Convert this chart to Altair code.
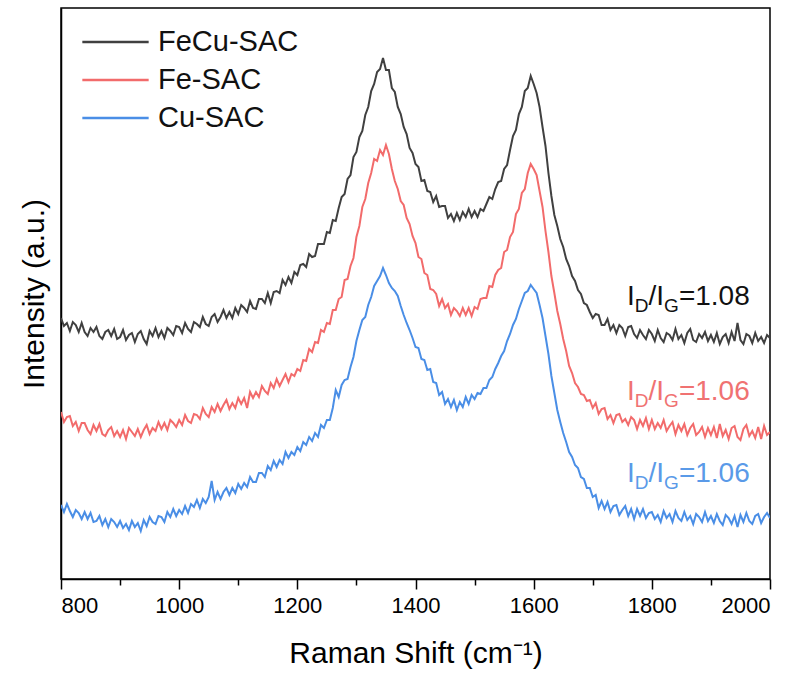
import altair as alt
import pandas as pd

# Raman shift sampling (cm^-1)
shift = list(range(800, 2001, 5))

# Intensities (arbitrary units)
fecu = [
    261, 253, 256, 248, 257, 254, 247, 256, 247, 243, 251, 247, 252, 243, 240, 247, 249, 243, 250, 240,
    242, 249, 239, 244, 246, 237, 245, 248, 240, 235, 248, 243, 251, 242, 248, 241, 251, 248, 244, 253,
    252, 246, 256, 250, 247, 257, 255, 252, 262, 255, 253, 262, 265, 257, 262, 269, 261, 267, 261, 271,
    265, 274, 271, 267, 278, 271, 270, 280, 280, 276, 286, 276, 287, 288, 286, 299, 294, 302, 296, 307,
    304, 314, 315, 312, 325, 322, 323, 335, 335, 335, 347, 346, 359, 358, 371, 382, 385, 400, 404, 422,
    427, 442, 448, 464, 472, 488, 495, 507, 510, 521, 509, 509, 491, 487, 472, 465, 452, 445, 431, 426,
    415, 412, 398, 399, 388, 387, 377, 383, 372, 373, 373, 361, 365, 358, 366, 359, 367, 362, 370, 362,
    368, 362, 370, 368, 375, 382, 380, 390, 397, 398, 410, 414, 429, 443, 449, 465, 472, 488, 491, 503,
    495, 486, 472, 452, 433, 406, 383, 364, 353, 340, 332, 320, 313, 303, 298, 289, 285, 276, 274, 267,
    261, 265, 264, 254, 254, 260, 249, 254, 246, 254, 251, 243, 252, 253, 245, 241, 249, 244, 240, 249,
    245, 238, 249, 241, 237, 246, 244, 239, 250, 240, 244, 236, 246, 250, 239, 237, 245, 241, 247, 238,
    244, 237, 246, 235, 242, 245, 236, 247, 238, 256, 239, 235, 245, 243, 236, 246, 238, 242, 236, 244,
    241,
]
fe = [
    167, 157, 162, 163, 153, 157, 148, 156, 156, 149, 145, 154, 148, 155, 145, 143, 149, 152, 143, 148,
    142, 149, 140, 151, 147, 143, 150, 142, 149, 154, 145, 151, 148, 157, 150, 156, 149, 159, 156, 152,
    159, 154, 164, 158, 156, 165, 164, 160, 171, 165, 162, 172, 167, 175, 168, 174, 179, 170, 176, 171,
    181, 175, 181, 171, 187, 181, 187, 182, 193, 188, 185, 196, 191, 200, 193, 199, 205, 197, 205, 203,
    210, 208, 219, 218, 230, 227, 237, 236, 249, 247, 256, 255, 269, 269, 280, 282, 299, 300, 313, 321,
    342, 353, 372, 380, 396, 406, 420, 418, 429, 424, 434, 425, 410, 398, 390, 378, 374, 361, 355, 343,
    336, 322, 320, 306, 304, 290, 289, 285, 273, 280, 271, 275, 264, 271, 268, 263, 271, 264, 271, 263,
    272, 270, 280, 281, 281, 293, 292, 304, 309, 311, 327, 329, 342, 347, 365, 370, 386, 390, 406, 415,
    410, 404, 388, 372, 348, 327, 303, 286, 268, 255, 240, 228, 213, 206, 196, 192, 185, 184, 178, 179,
    171, 176, 165, 170, 171, 160, 164, 156, 164, 165, 157, 160, 154, 162, 159, 150, 159, 153, 161, 150,
    159, 150, 156, 151, 159, 148, 153, 157, 145, 154, 148, 155, 144, 151, 155, 144, 147, 152, 142, 151,
    144, 152, 141, 155, 143, 149, 140, 151, 153, 142, 139, 150, 154, 143, 148, 141, 152, 140, 153, 144,
    147,
]
cu = [
    74, 67, 75, 68, 62, 69, 66, 60, 67, 60, 66, 57, 58, 63, 54, 60, 52, 60, 57, 52,
    58, 51, 55, 49, 58, 52, 56, 48, 59, 53, 62, 57, 55, 63, 62, 57, 67, 62, 70, 63,
    69, 65, 73, 66, 75, 72, 79, 71, 80, 76, 82, 98, 79, 87, 80, 87, 91, 84, 91, 86,
    95, 90, 96, 92, 102, 97, 97, 106, 106, 102, 113, 109, 118, 112, 119, 115, 127, 121, 127, 124,
    132, 128, 137, 134, 142, 138, 146, 142, 154, 151, 159, 159, 171, 189, 182, 194, 199, 200, 212, 222,
    238, 249, 259, 262, 274, 282, 293, 298, 303, 311, 304, 296, 291, 288, 283, 273, 264, 256, 249, 241,
    232, 231, 220, 219, 209, 210, 197, 196, 184, 187, 175, 180, 172, 179, 169, 177, 172, 182, 175, 184,
    180, 186, 185, 191, 191, 199, 202, 210, 216, 223, 228, 238, 245, 254, 260, 270, 278, 286, 288, 294,
    290, 286, 274, 261, 243, 225, 203, 186, 169, 157, 146, 137, 127, 122, 114, 111, 102, 100, 91, 91,
    82, 84, 71, 78, 70, 77, 67, 73, 74, 64, 69, 73, 63, 70, 60, 70, 63, 70, 61, 66,
    67, 60, 64, 57, 68, 61, 65, 57, 68, 61, 58, 67, 59, 63, 55, 65, 62, 57, 67, 58,
    63, 56, 65, 58, 54, 64, 61, 55, 63, 52, 64, 57, 66, 58, 55, 63, 65, 56, 62, 66,
    61,
]

series_names = ["FeCu-SAC", "Fe-SAC", "Cu-SAC"]
series_colors = ["#404040", "#F26B6B", "#4A8EE6"]
ratio_texts = ["=1.08", "=1.06", "=1.06"]
ratio_colors = ["#111111", "#F07272", "#5A9AE8"]
ratio_y = [274, 179, 97]
ratio_x = [1758, 1758, 1758]

major_ticks = [800, 1000, 1200, 1400, 1600, 1800, 2000]
minor_ticks = [900, 1100, 1300, 1500, 1700, 1900]

FONT = "Liberation Sans"

rows = []
for name, vals in zip(series_names, [fecu, fe, cu]):
    for x, v in zip(shift, vals):
        rows.append({"shift": x, "intensity": v, "sample": name})
df = pd.DataFrame(rows)

ann = pd.DataFrame({"shift": ratio_x, "intensity": ratio_y,
                    "ratio": ratio_texts, "tcolor": ratio_colors})

x_scale = alt.Scale(domain=[800, 2000], nice=False, zero=False)
y_scale = alt.Scale(domain=[0, 571], nice=False, zero=False)

y_axis = alt.Axis(title="Intensity (a.u.)", labels=False, ticks=False,
                  grid=False, titlePadding=12)

lines = alt.Chart(df).mark_line(strokeWidth=2, clip=True).encode(
    x=alt.X("shift:Q", scale=x_scale,
            axis=alt.Axis(values=major_ticks, title="Raman Shift (cm⁻¹)", orient="bottom",
                          tickSize=10, labelPadding=6, titlePadding=22, grid=False,
                          format="d")),
    y=alt.Y("intensity:Q", scale=y_scale, axis=y_axis),
    color=alt.Color("sample:N", sort=series_names,
                    scale=alt.Scale(domain=series_names, range=series_colors),
                    legend=alt.Legend(title=None, orient="none", legendX=20, legendY=17,
                                      symbolType="stroke", symbolSize=4400,
                                      symbolStrokeWidth=2.5, labelFontSize=29,
                                      labelFont=FONT, labelOffset=8, rowPadding=4,
                                      clipHeight=34,
                                      labelColor="#111111", padding=0)),
)

minor = alt.Chart(df).mark_point(opacity=0).encode(
    x=alt.X("shift:Q", scale=x_scale,
            axis=alt.Axis(values=minor_ticks, labels=False, tickSize=6, title=None,
                          domain=False, grid=False, orient="bottom")),
)


def piece(text, size, dx, dy, field=False):
    base = alt.Chart(ann).mark_text(align="left", baseline="alphabetic", font=FONT,
                                    fontSize=size, dx=dx, dy=dy)
    return base.encode(
        x=alt.X("shift:Q", scale=x_scale, axis=None),
        y=alt.Y("intensity:Q", scale=y_scale, axis=y_axis),
        color=alt.Color("tcolor:N", scale=None),
        text=alt.Text("ratio:N") if field else alt.value(text),
    )


labels = (piece("I", 28, 0, 0) + piece("D", 19, 7.8, 7) + piece("/I", 28, 21.5, 0)
          + piece("G", 19, 37.1, 7) + piece("", 28, 51.9, 0, field=True))

chart = alt.layer(lines, minor, labels).resolve_axis(x="independent").properties(
    width=709, height=571,
    padding={"left": 61, "top": 8, "right": 32, "bottom": 100},
    autosize=alt.AutoSizeParams(type="none"),
    background="white",
).configure_view(stroke="#000000", strokeWidth=1.5).configure_axis(
    domainColor="#000000", domainWidth=1.5, tickColor="#000000", tickWidth=1.5,
    labelFont=FONT, labelFontSize=22, labelColor="#000000",
    titleFont=FONT, titleFontSize=30, titleFontWeight="normal", titleColor="#000000",
)

chart.save("out.html", embed_options={"renderer": "svg", "actions": False})
